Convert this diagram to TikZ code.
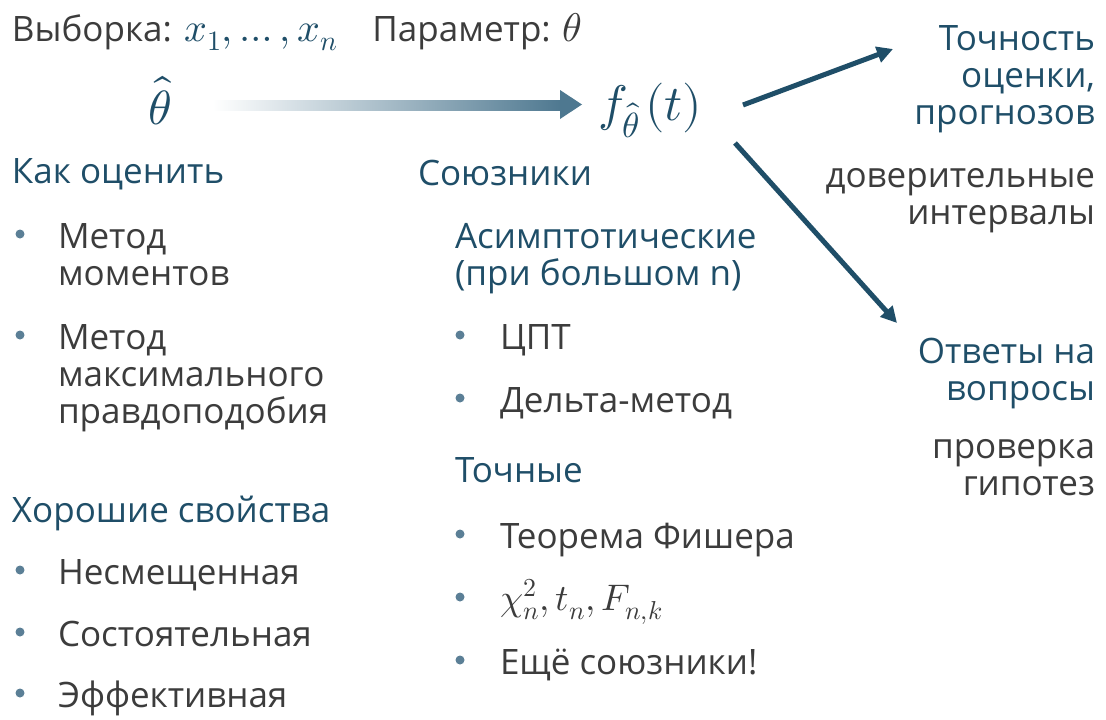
\documentclass[tikz,border=0pt]{standalone}
\usepackage{fontspec}
\usepackage{unicode-math}
\setmainfont{Open Sans}
\setmathfont{Latin Modern Math}
\usetikzlibrary{arrows.meta}
\definecolor{tealc}{HTML}{1F4E68}
\definecolor{txtc}{HTML}{3C3C3C}
\definecolor{bulc}{HTML}{5B7F96}
\definecolor{gradc}{HTML}{4E7890}
\newcommand\bigtxt{\fontsize{35}{37}\selectfont}
\newcommand\inmath{\fontsize{40}{40}\selectfont}
\newcommand\thtxt{\fontsize{48}{52}\selectfont}
\newcommand\ftxt{\fontsize{50}{54}\selectfont}
\begin{document}
\begin{tikzpicture}[x=1pt,y=-1pt,
  every node/.style={inner sep=0pt, outer sep=0pt},
  body/.style={font=\bigtxt, text=txtc, anchor=base west, align=left},
  head/.style={font=\bigtxt, text=tealc, anchor=base west, align=left},
  rhead/.style={font=\bigtxt, text=tealc, anchor=base east, align=right},
  rbody/.style={font=\bigtxt, text=txtc, anchor=base east, align=right},
  bul/.style={circle, fill=bulc, minimum size=9pt},
  conn/.style={draw=tealc, line width=5pt, -{Triangle[length=16pt,width=16pt]}}]
\useasboundingbox (0,0) rectangle (1106,720);

% top line
\node[body] (sample) at (12,41) {Выборка: \textcolor{tealc}{\inmath$x_1,\dots,x_n$}\quad Параметр: {\inmath$\theta$}};

% estimator and function
\node[font=\thtxt, text=tealc, anchor=base] (th) at (160,124) {$\hat\theta$};
\node[font=\ftxt, text=tealc, anchor=base west] (f) at (598,120) {$f_{\hat\theta}\mkern2mu(t)$};

% gradient arrow
\shade[left color=white, right color=gradc] (213,100) rectangle (562,110);
\fill[gradc] (560,90) -- (582,104.5) -- (560,119) -- cycle;

% connectors
\coordinate (a1s) at (743,105);
\coordinate (a1e) at (893,49);
\coordinate (a2s) at (735,143);
\coordinate (a2e) at (897,323);
\draw[conn] (a1s) -- (a1e);
\draw[conn] (a2s) -- (a2e);

% left column
\node[head] (how) at (12,183) {Как оценить};
\node[bul] (b1) at (20,234) {};
\node[body] (m1) at (58,285) {Метод\\моментов};
\node[bul] (b2) at (20,335) {};
\node[body] (m2) at (58,423) {Метод\\максимального\\правдоподобия};
\node[head] (good) at (12,522) {Хорошие свойства};
\node[bul] (b3) at (20,570) {};
\node[body] (p1) at (58,584) {Несмещенная};
\node[bul] (b4) at (20,632) {};
\node[body] (p2) at (58,646) {Состоятельная};
\node[bul] (b5) at (20,693) {};
\node[body] (p3) at (58,707) {Эффективная};

% middle column
\node[head] (allies) at (418,185) {Союзники};
\node[head] (asym) at (455,285) {Асимптотические\\(при большом n)};
\node[bul] (b6) at (460,335) {};
\node[body] (c1) at (500,349) {ЦПТ};
\node[bul] (b7) at (460,398) {};
\node[body] (c2) at (500,412) {Дельта-метод};
\node[head] (exact) at (455,482) {Точные};
\node[bul] (b8) at (460,534) {};
\node[body] (e1) at (500,548) {Теорема Фишера};
\node[bul] (b9) at (460,597) {};
\node[body] (e2) at (500,610) {\fontsize{37}{40}\selectfont$\chi^2_n, t_n, F_{n,k}$};
\node[bul] (b10) at (460,660) {};
\node[body] (e3) at (500,674) {Ещё союзники!};

% right column
\node[rhead] (acc) at (1095,124) {Точность\\оценки,\\прогнозов};
\node[rbody] (ci) at (1095,224) {доверительные\\интервалы};
\node[rhead] (ans) at (1095,400) {Ответы на\\вопросы};
\node[rbody] (ht) at (1095,495) {проверка\\гипотез};
\end{tikzpicture}
\end{document}
